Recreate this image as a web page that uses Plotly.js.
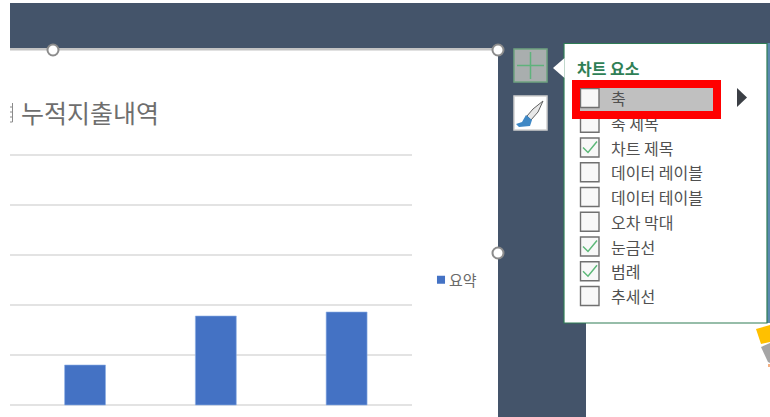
<!DOCTYPE html>
<html><head><meta charset="utf-8">
<script src="https://cdn.plot.ly/plotly-3.0.1.min.js"></script>
<style>html,body{margin:0;padding:0;background:#fff}#w{position:relative;width:770px;height:417px;overflow:hidden}#c{width:770px;height:417px}
#redBox{position:absolute;left:572px;top:80px;width:149px;height:39px;box-sizing:border-box;border:8px solid #ff0000}
#c .legend .legendpoints path{transform:translate(32px,0px) scale(.67) !important;stroke-width:0 !important}</style></head>
<body><div id="w"><div id="c"></div><div id="redBox"></div></div>
<script>
const categories = ['항목1','항목2','항목3'];
const seriesName = '요약';
const values = [0.8, 1.78, 1.86];
const yTicks = [0,1,2,3,4,5];
const chartTitle = '누적지출내역';
const menuTitle = '차트 요소';
const menuItems = ['축','축 제목','차트 제목','데이터 레이블','데이터 테이블','오차 막대','눈금선','범례','추세선'];
const menuChecked = [false,false,true,false,false,false,true,true,false];

const W=770,H=417;
const px=x=>x/W, py=y=>1-y/H;
const FONT='"Noto Sans CJK KR","Noto Sans",sans-serif';
const rect=(x0,y0,x1,y1,fill,line,lw,layer)=>({type:'rect',xref:'paper',yref:'paper',x0:px(x0),x1:px(x1),y0:py(y0),y1:py(y1),
  fillcolor:fill,line:{color:line||'rgba(0,0,0,0)',width:line?(lw||1):0},layer:layer||'above'});
const path=(d,fill,line,lw)=>({type:'path',xref:'paper',yref:'paper',path:d,fillcolor:fill||'rgba(0,0,0,0)',line:{color:line||'rgba(0,0,0,0)',width:line?(lw||1):0},layer:'above'});
const P=(pts,close)=>pts.map((p,i)=>(i?'L':'M')+px(p[0])+','+py(p[1])).join(' ')+(close?' Z':'');
const circle=(cx,cy,r)=>({type:'circle',xref:'paper',yref:'paper',x0:px(cx-r),x1:px(cx+r),y0:py(cy+r),y1:py(cy-r),fillcolor:'#fff',line:{color:'#8c8c8c',width:2},layer:'above'});

const DARK='#44546a';
const shapes=[
  rect(10,3,770,48,DARK,null,0,'below'),
  rect(498,48,586,417,DARK,null,0,'below'),
  rect(767,43,770,323,'#5b8ab0',null,0,'below'),
  rect(10,48,498,50.5,'#c4c4c4',null,0,'below'),
];
const rowH=24.75, rowY0=98;
// sliver of the title character cut off by the crop
shapes.push(path(P([[12.5,103],[12.5,122]])+' '+P([[10,107],[12.5,107]])+' '+P([[10,112],[12.5,112]])+' '+P([[10,117],[12.5,117]])+' '+P([[10,122],[12.5,122]]),null,'#8a8a8a',1));
shapes.push(path(P([[756,329],[770,325],[770,342],[761,344]],true),'#ffc000'));
shapes.push(path(P([[761,347],[770,343],[770,363],[768,362]],true),'#a5a5a5'));
shapes.push(rect(768,364,770,367,'#f4b183'));
shapes.push(circle(53,50,5.5),circle(498,50,5.5),circle(498,253,5.5));
shapes.push(rect(514,49,547,82,'#a9aeae','#6fa380',1.5));
shapes.push(path(P([[530.5,52],[530.5,79]])+' '+P([[517,65.5],[544,65.5]]),null,'#5fb27c',1.5));
shapes.push(rect(514,96,547,130,'#fff','#d0d0d0',1.5));
shapes.push(path(P([[543,101],[533,109],[527,116],[531,120],[538,112]],true),'#e8e8e8','#606060',1));
shapes.push(path(P([[526,115],[532,120],[530,126],[519,127],[516,124],[522,122]],true),'#3f88c5'));
shapes.push(rect(564,43.5,767,323,'#fff','#2f7d55',1.2));
shapes.push(path(P([[564.5,58],[553,68],[564.5,78]],true),'#fff'));
shapes.push(rect(580,88,714,111,'#c0c0c0'));
shapes.push(path(P([[737,88],[747,97.5],[737,107]],true),'#3b3f45'));
menuChecked.forEach((c,i)=>{
  const y=rowY0+i*rowH;
  shapes.push(rect(580.5,y-9.5,599,y+9.5,'#f8f8f8','#707070',1.4));
  if(c) shapes.push(path(P([[583,y],[588,y+5],[597,y-6]]),null,'#5cb878',1.5));
});
const ann=[
  {text:chartTitle,xref:'paper',yref:'paper',x:px(161),y:py(112),xanchor:'right',yanchor:'middle',showarrow:false,font:{family:FONT,size:25,color:'#6e6e6e'}},
  {text:menuTitle,xref:'paper',yref:'paper',x:px(575),y:py(68),xanchor:'left',yanchor:'middle',showarrow:false,font:{family:FONT,size:16,color:'#2f7f56',weight:600}},
];
menuItems.forEach((t,i)=>ann.push({text:t,xref:'paper',yref:'paper',x:px(609),y:py(rowY0+i*rowH),xanchor:'left',yanchor:'middle',showarrow:false,font:{family:FONT,size:16,color:'#505050'}}));

const data=[{type:'bar',x:categories,y:values,name:seriesName,marker:{color:'#4472c4',line:{color:'#8fb0e6',width:0.6}},width:0.313,showlegend:true,hoverinfo:'skip'}];
const layout={width:W,height:H,margin:{l:0,r:0,t:0,b:0},paper_bgcolor:'#fff',plot_bgcolor:'rgba(0,0,0,0)',
  xaxis:{domain:[px(10),px(412)],range:[-0.574,2.5],type:'category',showticklabels:false,ticks:'',showgrid:false,zeroline:false,showline:false},
  yaxis:{domain:[py(408),py(152)],range:[-0.06,5.06],tickvals:yTicks,showticklabels:false,ticks:'',gridcolor:'#e3e3e3',gridwidth:1.5,zeroline:false,showline:false},
  showlegend:true,
  legend:{x:px(409),y:py(280),xanchor:'left',yanchor:'middle',bgcolor:'rgba(0,0,0,0)',font:{family:FONT,size:15,color:'#6a6a6a'},itemwidth:30},
  shapes:shapes,annotations:ann,font:{family:FONT}};
Plotly.newPlot('c',data,layout,{displayModeBar:false,staticPlot:true});
</script></body></html>
